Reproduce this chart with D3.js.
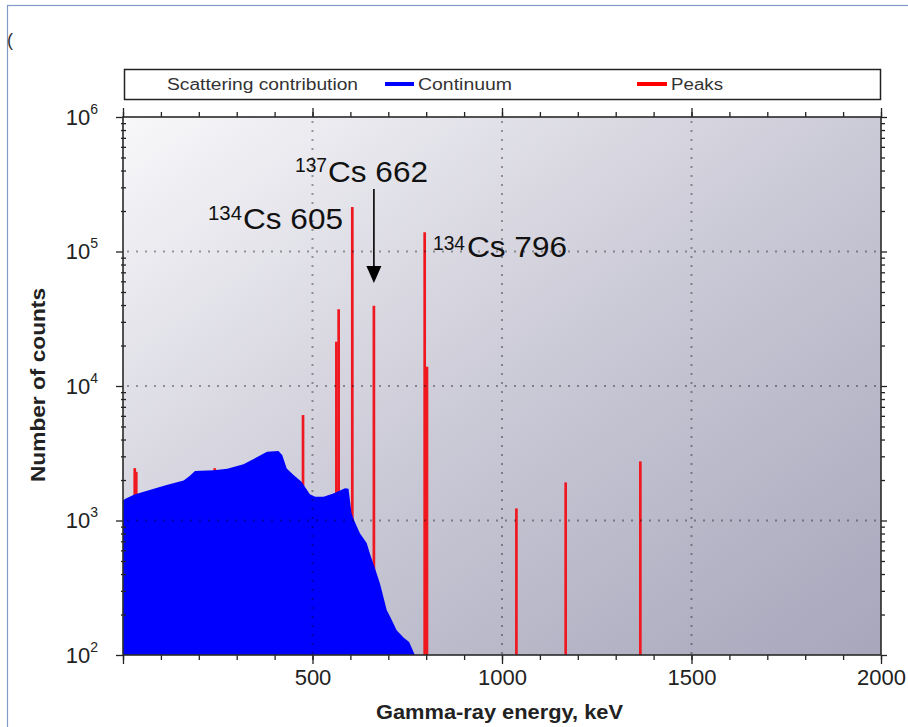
<!DOCTYPE html>
<html><head><meta charset="utf-8">
<script src="https://cdn.jsdelivr.net/npm/d3@7"></script>
<style>
body{margin:0;background:#fff}
svg{display:block}
text{font-family:"Liberation Sans",Arial,Helvetica,sans-serif}
</style>
</head><body>
<svg id="c" width="908" height="727"></svg>
<script>
// ---- data ----
const contEnergy = [0, 5, 30, 115, 160, 175, 190, 205, 240, 275, 318, 353, 380, 410, 420, 432, 450, 471, 493, 507, 529, 555, 586, 595, 603, 610, 625, 643, 652, 665, 678, 696, 704, 722, 740, 755, 770];
const contCounts = [1400, 1445, 1560, 1835, 1980, 2130, 2330, 2345, 2360, 2430, 2620, 2950, 3250, 3290, 3070, 2440, 2180, 1940, 1565, 1500, 1500, 1590, 1735, 1720, 1130, 1000, 803, 680, 560, 440, 340, 215, 195, 153, 135, 125, 100];
const peakEnergy = [31, 35, 242, 475, 563, 569, 605, 662, 796, 802, 1038, 1168, 1365];
const peakCounts = [2450, 2300, 2450, 6080, 21300, 37200, 214000, 39500, 139000, 13900, 1230, 1920, 2750];
const xMajorTicks = [0, 500, 1000, 1500, 2000];
const xTickLabels = ["", "500", "1000", "1500", "2000"];
const xMinorTicks = d3.range(0, 2001, 100);
const yTickExponents = [2, 3, 4, 5, 6];
const legendLabels = ["Scattering contribution", "Continuum", "Peaks"];
const annMass = ["134", "137", "134"];
const annLine = ["Cs 605", "Cs 662", "Cs 796"];
const xTitle = "Gamma-ray energy, keV";
const yTitle = "Number of counts";

// ---- layout ----
const L = 123, R = 881, T = 117, B = 655;
const svg = d3.select("#c");
const x = d3.scaleLinear([0, 2000], [L, R]);
const y = d3.scaleLog([100, 1e6], [B, T]);

// outer frame
svg.append("rect").attr("x", 7.5).attr("y", 5.5).attr("width", 940).attr("height", 760)
  .attr("fill", "none").attr("stroke", "#7f9cc6").attr("stroke-width", 1.2);
svg.append("text").attr("x", 7).attr("y", 46).attr("font-size", 18).attr("fill", "#333").text("(");

// gradient
const defs = svg.append("defs");
const g = defs.append("linearGradient").attr("id", "bg").attr("x1", 0).attr("y1", 0).attr("x2", 1).attr("y2", 1);
g.append("stop").attr("offset", 0).attr("stop-color", "#f8f8fa");
g.append("stop").attr("offset", 0.5).attr("stop-color", "#cbcad7");
g.append("stop").attr("offset", 1).attr("stop-color", "#a7a6bb");
defs.append("clipPath").attr("id", "clip").append("rect")
  .attr("x", L).attr("y", T).attr("width", R - L).attr("height", B - T);

// legend
const leg = svg.append("g");
leg.append("rect").attr("x", 124.5).attr("y", 69.5).attr("width", 756).attr("height", 30)
  .attr("fill", "#fff").attr("stroke", "#222").attr("stroke-width", 1.5);
function stretched(parent, txt, xx, yy, size, len, attrs) {
  const t = parent.append("text").attr("x", xx).attr("y", yy).attr("font-size", size)
    .attr("textLength", len).attr("lengthAdjust", "spacingAndGlyphs").text(txt);
  if (attrs) Object.entries(attrs).forEach(([k, v]) => t.attr(k, v));
  return t;
}
stretched(leg, legendLabels[0], 167, 90, 16, 191, {fill: "#333"});
leg.append("line").attr("x1", 385).attr("x2", 414).attr("y1", 84).attr("y2", 84).attr("stroke", "#0000ff").attr("stroke-width", 4);
stretched(leg, legendLabels[1], 418, 90, 16, 94, {fill: "#333"});
leg.append("line").attr("x1", 637).attr("x2", 667).attr("y1", 84).attr("y2", 84).attr("stroke", "#ff0000").attr("stroke-width", 4);
stretched(leg, legendLabels[2], 671, 90, 16, 52, {fill: "#333"});

// plot background
svg.append("rect").attr("x", L).attr("y", T).attr("width", R - L).attr("height", B - T).attr("fill", "url(#bg)");

const plot = svg.append("g").attr("clip-path", "url(#clip)");
// peaks
plot.selectAll("line.peak").data(peakEnergy).join("line").attr("class", "peak")
  .attr("x1", d => x(d)).attr("x2", d => x(d))
  .attr("y1", y(100)).attr("y2", (d, i) => y(peakCounts[i]))
  .attr("stroke", "#f01820").attr("stroke-width", 2.7);
// continuum
const contData = contEnergy.map((e, i) => [e, contCounts[i]]);
plot.append("path").datum(contData)
  .attr("d", d3.area().x(d => x(d[0])).y0(y(100)).y1(d => y(d[1])))
  .attr("fill", "#0000ff");

// grid
const grid = svg.append("g").attr("stroke", "rgba(0,0,0,0.36)").attr("stroke-width", 2).attr("stroke-dasharray", "2,7");
grid.selectAll("line.v").data([500, 1000, 1500]).join("line")
  .attr("x1", d => x(d)).attr("x2", d => x(d)).attr("y1", T + 4).attr("y2", B);
grid.selectAll("line.h").data([1e3, 1e4, 1e5]).join("line")
  .attr("y1", d => y(d)).attr("y2", d => y(d)).attr("x1", L + 4).attr("x2", R);

// axes
function styleAxis(sel) {
  sel.select(".domain").remove();
  sel.selectAll(".tick line").attr("stroke", "#222").attr("stroke-width", 1.3);
}
svg.append("g").attr("transform", `translate(0,${B})`)
  .call(d3.axisBottom(x).tickValues(xMinorTicks).tickSize(5).tickFormat(""))
  .call(styleAxis);
const xb = svg.append("g").attr("transform", `translate(0,${B})`)
  .call(d3.axisBottom(x).tickValues(xMajorTicks).tickSize(9).tickFormat((d, i) => xTickLabels[i]))
  .call(styleAxis);
xb.selectAll(".tick text").attr("font-size", 22).attr("fill", "#222").attr("y", 14.5);
svg.append("g").attr("transform", `translate(0,${T})`)
  .call(d3.axisTop(x).tickValues(xMinorTicks).tickSize(5).tickFormat(""))
  .call(styleAxis);
svg.append("g").attr("transform", `translate(0,${T})`)
  .call(d3.axisTop(x).tickValues(xMajorTicks).tickSize(9).tickFormat(""))
  .call(styleAxis);

const yMinor = [];
[2, 3, 4, 5].forEach(p => d3.range(2, 10).forEach(m => yMinor.push(m * Math.pow(10, p))));
const yMajor = yTickExponents.map(e => Math.pow(10, e));
svg.append("g").attr("transform", `translate(${L + 3},0)`)
  .call(d3.axisLeft(y).tickValues(yMinor).tickSize(5).tickFormat(""))
  .call(styleAxis);
const yl = svg.append("g").attr("transform", `translate(${L},0)`)
  .call(d3.axisLeft(y).tickValues(yMajor).tickSize(7).tickFormat(""))
  .call(styleAxis);
yl.selectAll(".tick text").each(function(d, i) {
  const t = d3.select(this).attr("x", -25).attr("font-size", 22).attr("fill", "#222").attr("dy", "0.32em");
  t.append("tspan").text("10");
  t.append("tspan").attr("font-size", 14).attr("dy", -11).text(yTickExponents[i]);
});
svg.append("g").attr("transform", `translate(${R},0)`)
  .call(d3.axisRight(y).tickValues(yMinor).tickSize(4).tickFormat(""))
  .call(styleAxis);
svg.append("g").attr("transform", `translate(${R},0)`)
  .call(d3.axisRight(y).tickValues(yMajor).tickSize(6).tickFormat(""))
  .call(styleAxis);

// frame
svg.append("rect").attr("x", L).attr("y", T).attr("width", R - L).attr("height", B - T)
  .attr("fill", "none").attr("stroke", "#2a2a2a").attr("stroke-width", 1.6);

// titles
stretched(svg, xTitle, 376, 719, 20, 247, {"font-weight": "bold", fill: "#222"});
stretched(svg, yTitle, 0, 0, 20, 194, {"font-weight": "bold", fill: "#222", "text-anchor": "middle",
  transform: "translate(45,385) rotate(-90)"});

// annotations
const ann = svg.append("g").attr("fill", "#111");
const annPos = [
  {mx: 208, my: 220, mw: 34, lx: 243, ly: 229},
  {mx: 295, my: 172, mw: 32, lx: 328, ly: 182},
  {mx: 433, my: 250, mw: 32, lx: 467, ly: 257}
];
annPos.forEach((p, i) => {
  stretched(ann, annMass[i], p.mx, p.my, 21, p.mw);
  stretched(ann, annLine[i], p.lx, p.ly, 29, 100);
});
// arrow to 662 peak
const ax = x(662);
svg.append("line").attr("x1", ax).attr("x2", ax).attr("y1", 189).attr("y2", 268)
  .attr("stroke", "#000").attr("stroke-width", 1.6);
svg.append("path").attr("d", `M${ax - 7.5},266 L${ax + 7.5},266 L${ax},283 Z`).attr("fill", "#000");
</script>
</body></html>
